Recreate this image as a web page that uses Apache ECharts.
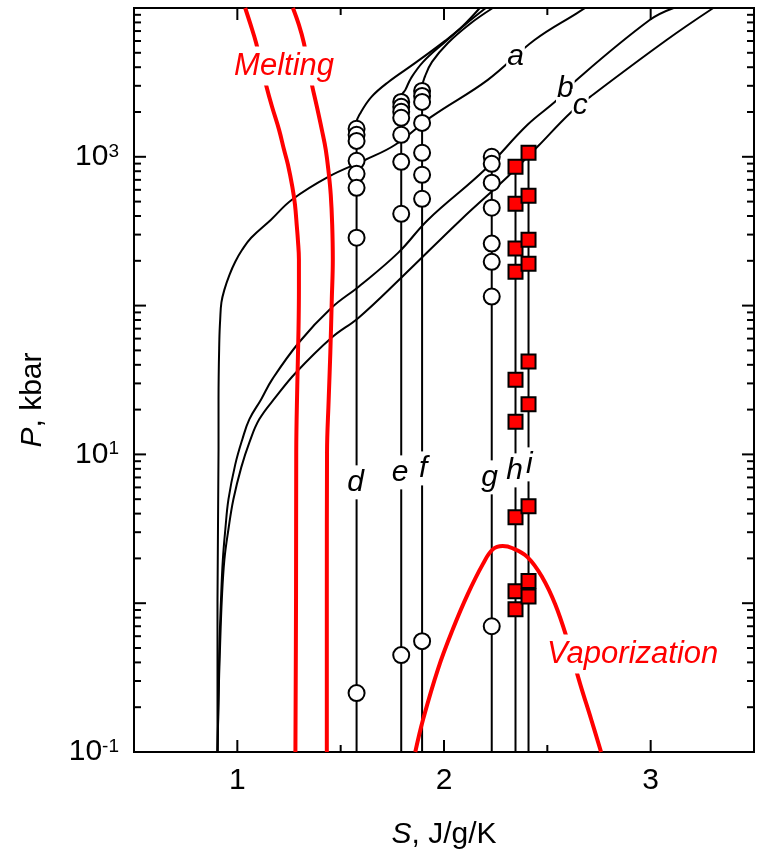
<!DOCTYPE html>
<html>
<head>
<meta charset="utf-8">
<title>Isentropes</title>
<script src="https://cdn.jsdelivr.net/npm/echarts@6/dist/echarts.min.js"></script>
<style>
  html, body { margin: 0; padding: 0; background: #fff; }
  #chart { width: 757px; height: 855px; }
</style>
</head>
<body>
<div id="chart"></div>
<script>
let FONT = '"Liberation Sans", Arial, Helvetica, sans-serif';
let RED = '#ff0000';

// entropy of the isentropes d..i (J/g/K)
let sD = 1.577, sE = 1.793, sF = 1.894, sG = 2.231, sH = 2.346, sI = 2.409;

// pressures of the computed states on each isentrope (kbar)
let circlesD = [1542, 1406, 1279, 940, 769, 619, 286, 0.249];
let circlesE = [2339, 2168, 2006, 1828, 1406, 925, 414, 0.448];
let circlesF = [2773, 2566, 2339, 1690, 1064, 757, 522, 0.556];
let circlesG = [1000, 897, 670, 455, 261, 197, 115, 0.70];
let squaresH = [857, 484, 242, 169, 31.8, 16.6, 3.78, 1.205, 0.912];
let squaresI = [1064, 547, 277, 191, 42.1, 21.7, 4.48, 1.41, 1.11];

// upper branches of d, e, f  [S, P]
let upD = [[1.577, 1690], [1.596, 1972], [1.649, 2529], [1.731, 3184], [1.861, 4276], [2.005, 6012], [2.091, 7568], [2.173, 10000]];
let upE = [[1.793, 2529], [1.813, 2818], [1.841, 3388], [1.899, 4345], [2.005, 5916], [2.106, 7816], [2.202, 10000]];
let upF = [[1.894, 2904], [1.909, 3499], [1.942, 4345], [2.019, 5821], [2.125, 7816], [2.236, 10000]];

// curves a, b, c  [S, P]
let curveA = [[0.904, 0.1], [0.904, 1.06], [0.909, 10.8], [0.909, 23.4], [0.913, 59.2], [0.917, 80.5], [0.923, 105],
    [0.9375, 128], [0.962, 161], [0.990, 197], [1.024, 238], [1.067, 286], [1.163, 378], [1.264, 514], [1.442, 735],
    [1.620, 955], [1.764, 1205], [1.938, 1854], [2.212, 3289], [2.438, 6095], [2.644, 9247], [2.683, 10000]];
let curveB = [[0.904, 0.1], [0.909, 0.227], [0.913, 0.491], [0.921, 1.064], [0.930, 1.97], [0.942, 3.14], [0.957, 4.99],
    [0.990, 8.57], [1.024, 12.6], [1.058, 17.2], [1.115, 23.4], [1.168, 31.8], [1.298, 56.5], [1.457, 97.0], [1.587, 134],
    [1.779, 227], [1.923, 378], [2.197, 818], [2.404, 1641], [2.548, 2415], [2.630, 3184], [2.995, 8299], [3.111, 10000]];
let curveC = [[0.904, 0.1], [0.909, 0.227], [0.916, 0.491], [0.925, 1.064], [0.9375, 1.97], [0.957, 3.14], [0.981, 4.99],
    [1.019, 8.18], [1.058, 12.0], [1.106, 17.2], [1.188, 24.5], [1.284, 35.5], [1.457, 61.0], [1.587, 83.0], [1.793, 154],
    [2.082, 378], [2.308, 735], [2.452, 1167], [2.611, 1972], [2.707, 2529], [3.077, 6095], [3.303, 10000]];

// phase boundaries  [S, P]
let meltLeft = [[1.281, 0.1], [1.284, 1.06], [1.285, 10.3], [1.290, 28.6], [1.296, 69.0], [1.298, 128], [1.298, 204],
    [1.293, 277], [1.288, 339], [1.279, 476], [1.266, 630], [1.245, 884], [1.226, 1114], [1.202, 1517], [1.168, 2168],
    [1.139, 3041], [1.115, 4207], [1.091, 5821], [1.063, 7816], [1.038, 10000]];
let meltRight = [[1.433, 0.1], [1.433, 1.06], [1.434, 10.3], [1.442, 23.4], [1.450, 48.4], [1.457, 110], [1.462, 204],
    [1.459, 350], [1.452, 556], [1.442, 782], [1.428, 1114], [1.409, 1517], [1.385, 2168], [1.361, 3041], [1.341, 4207],
    [1.322, 5821], [1.298, 7691], [1.269, 10000]];
let vapor = [[1.861, 0.1], [1.899, 0.166], [1.971, 0.361], [2.043, 0.670], [2.115, 1.15], [2.188, 1.83], [2.236, 2.30],
    [2.284, 2.42], [2.332, 2.34], [2.404, 2.04], [2.476, 1.49], [2.538, 0.984], [2.596, 0.573], [2.659, 0.286],
    [2.712, 0.166], [2.760, 0.1]];

// text labels [S, P, text]
let curveLabels = [[2.346, 4688, 'a'], [2.587, 2858, 'b'], [2.659, 2198, 'c'], [1.572, 6.49, 'd'], [1.788, 7.57, 'e'],
    [1.899, 8.05, 'f'], [2.221, 7.01, 'g'], [2.341, 7.81, 'h'], [2.413, 8.57, 'i']];
let phaseLabels = [[1.226, 4083, 'Melting'], [2.913, 0.455, 'Vaporization']];

// axis ticks
let xTicks = [1, 1.5, 2, 2.5, 3];
let yDecades = [0.1, 1, 10, 100, 1000];
let yLabelExp = [-1, 1, 3];

let yTicks = [];
yDecades.forEach(d => {
    for (let m = 1; m <= 9; m++) yTicks.push([1, d * m, m === 1 ? 1 : 0]);
});
yTicks.push([1, 10000, 1]);

let blackLine = (name, data) => ({
    name, type: 'line', data, showSymbol: false, smooth: 0.4, z: 2,
    lineStyle: { color: '#000', width: 2 }
});
let redLine = (name, data) => ({
    name, type: 'line', data, showSymbol: false, smooth: 0.4, z: 2,
    lineStyle: { color: RED, width: 4 }
});
let vertical = (s, top) => [[s, 0.1], [s, top]];
let onLine = (s, arr) => arr.map(p => [s, p]);

let tickStyle = { stroke: '#000', lineWidth: 2 };

let option = {
    animation: false,
    backgroundColor: '#fff',
    grid: {
        left: 134, right: 1, top: 8, bottom: 102,
        show: true, borderColor: '#000', borderWidth: 2, backgroundColor: 'transparent'
    },
    xAxis: {
        type: 'value', min: 0.5, max: 3.5, interval: 0.5,
        axisLine: { show: false }, axisTick: { show: false }, splitLine: { show: false },
        axisLabel: {
            margin: 14, fontSize: 30, color: '#000', fontFamily: FONT,
            formatter: v => (Math.abs(v - Math.round(v)) < 1e-6 && v > 0.6 && v < 3.4) ? String(Math.round(v)) : ''
        },
        name: '{i|S}, J/g/K', nameLocation: 'middle', nameGap: 68,
        nameTextStyle: {
            fontSize: 30, color: '#000', fontFamily: FONT,
            rich: { i: { fontSize: 30, fontStyle: 'italic', color: '#000', fontFamily: FONT } }
        }
    },
    yAxis: {
        type: 'log', logBase: 10, min: 0.1, max: 10000,
        axisLine: { show: false }, axisTick: { show: false }, splitLine: { show: false },
        axisLabel: {
            margin: 15, color: '#000', fontFamily: FONT,
            formatter: v => {
                let e = Math.round(Math.log10(v));
                return yLabelExp.indexOf(e) >= 0 ? '{b|10}{s|' + e + '}' : '';
            },
            rich: {
                b: { fontSize: 30, fontFamily: FONT, color: '#000' },
                s: { fontSize: 19, fontFamily: FONT, color: '#000', verticalAlign: 'top' }
            }
        }
    },
    graphic: [{
        type: 'text', x: 33, y: 400, rotation: Math.PI / 2,
        style: {
            text: '{i|P}, kbar', fontSize: 30, fontFamily: FONT, fill: '#000',
            align: 'center', verticalAlign: 'middle',
            rich: { i: { fontSize: 30, fontStyle: 'italic', fontFamily: FONT, fill: '#000' } }
        }
    }],
    series: [
        blackLine('a', curveA),
        blackLine('b', curveB),
        blackLine('c', curveC),
        blackLine('d', vertical(sD, upD[0][1]).concat(upD.slice(1))),
        blackLine('e', vertical(sE, upE[0][1]).concat(upE.slice(1))),
        blackLine('f', vertical(sF, upF[0][1]).concat(upF.slice(1))),
        blackLine('g', vertical(sG, circlesG[0])),
        blackLine('h', vertical(sH, squaresH[0])),
        blackLine('i', vertical(sI, squaresI[0])),
        redLine('melting 1', meltLeft),
        redLine('melting 2', meltRight),
        redLine('vaporization', vapor),
        {
            name: 'circles', type: 'scatter', symbol: 'circle', symbolSize: 16, z: 3,
            data: [].concat(onLine(sD, circlesD), onLine(sE, circlesE), onLine(sF, circlesF), onLine(sG, circlesG)),
            itemStyle: { color: '#fff', borderColor: '#000', borderWidth: 2, opacity: 1 }
        },
        {
            name: 'squares', type: 'scatter', symbol: 'rect', symbolSize: 14, z: 3,
            data: [].concat(onLine(sH, squaresH), onLine(sI, squaresI)),
            itemStyle: { color: RED, borderColor: '#000', borderWidth: 2, opacity: 1 }
        },
        {
            name: 'curve labels', type: 'scatter', symbolSize: 0, z: 4, data: curveLabels,
            itemStyle: { opacity: 1 },
            label: {
                show: true, position: 'inside', formatter: p => p.value[2],
                fontSize: 30, fontStyle: 'italic', fontFamily: FONT, color: '#000', opacity: 1,
                backgroundColor: '#fff', padding: [2, 1, 2, 1]
            }
        },
        {
            name: 'phase labels', type: 'scatter', symbolSize: 0, z: 4, data: phaseLabels,
            itemStyle: { opacity: 1 },
            label: {
                show: true, position: 'inside', formatter: p => p.value[2],
                fontSize: 31, fontStyle: 'italic', fontFamily: FONT, color: RED, opacity: 1,
                backgroundColor: '#fff', padding: [4, 2, 4, 2]
            }
        },
        {
            name: 'y ticks', type: 'custom', z: 6, silent: true, data: yTicks,
            encode: { x: 0, y: 1 },
            renderItem: (params, api) => {
                let cs = params.coordSys;
                let y = api.coord([1, api.value(1)])[1];
                let len = api.value(2) ? 12 : 7;
                return {
                    type: 'group', children: [
                        { type: 'line', shape: { x1: cs.x, y1: y, x2: cs.x + len, y2: y }, style: tickStyle },
                        { type: 'line', shape: { x1: cs.x + cs.width - len, y1: y, x2: cs.x + cs.width, y2: y }, style: tickStyle }
                    ]
                };
            }
        },
        {
            name: 'x ticks', type: 'custom', z: 6, silent: true,
            data: xTicks.map(v => [v, 1, Number.isInteger(v) ? 1 : 0]),
            encode: { x: 0, y: 1 },
            renderItem: (params, api) => {
                let cs = params.coordSys;
                let x = api.coord([api.value(0), 1])[0];
                let len = api.value(2) ? 12 : 7;
                return {
                    type: 'group', children: [
                        { type: 'line', shape: { x1: x, y1: cs.y + cs.height, x2: x, y2: cs.y + cs.height - len }, style: tickStyle },
                        { type: 'line', shape: { x1: x, y1: cs.y, x2: x, y2: cs.y + len }, style: tickStyle }
                    ]
                };
            }
        }
    ]
};

let chart = echarts.init(document.getElementById('chart'), null, { renderer: 'canvas' });
chart.setOption(option);
</script>
</body>
</html>
